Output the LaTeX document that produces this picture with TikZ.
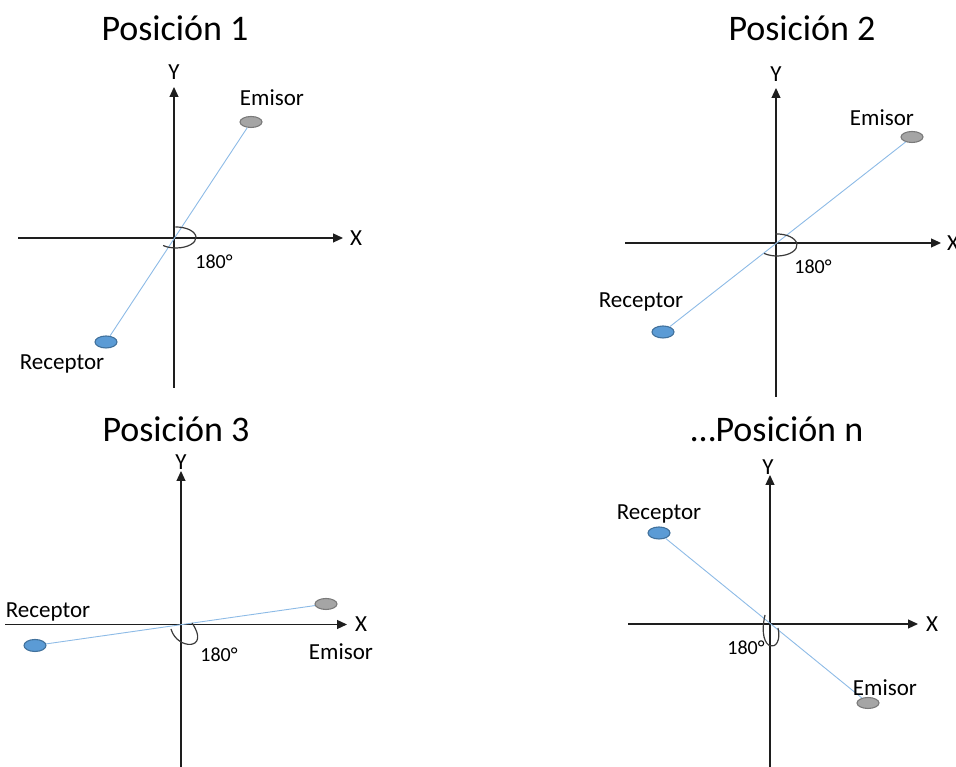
\documentclass[tikz,border=0pt]{standalone}
\usepackage{fontspec}
\setmainfont{Carlito}
\usetikzlibrary{arrows.meta,shapes.geometric}
\definecolor{axisdark}{HTML}{1E1E1E}
\definecolor{linkblue}{HTML}{8DBBE6}
\definecolor{grayfill}{HTML}{A5A5A5}
\definecolor{grayedge}{HTML}{7A7A7A}
\definecolor{bluefill}{HTML}{5B9BD5}
\definecolor{blueedge}{HTML}{41719C}
\definecolor{arcgray}{HTML}{3A3A3A}
\begin{document}
\begin{tikzpicture}[x=1pt,y=1pt,
  axisline/.style={draw=axisdark, line width=1.2pt, -{Triangle[length=10pt,width=9pt]}},
  link/.style={draw=linkblue, line width=0.9pt},
  emitter/.style={ellipse, draw=grayedge, fill=grayfill, line width=1.1pt,
    minimum width=22pt, minimum height=11pt, inner sep=0pt},
  receiver/.style={ellipse, draw=blueedge, fill=bluefill, line width=1.1pt,
    minimum width=22pt, minimum height=12pt, inner sep=0pt},
  titletext/.style={font=\fontsize{36}{42}\selectfont},
  lbl/.style={font=\fontsize{23}{27}\selectfont},
  deg/.style={font=\fontsize{20}{24}\selectfont},
  anglearc/.style={draw=arcgray, line width=1.2pt}]
\useasboundingbox (0,0) rectangle (956,767);

% ---------- Position 1 ----------
\node[titletext] (t1) at (175,739) {Posición 1};
\coordinate (o1) at (174,529);
\coordinate (y1b) at (174,379);
\coordinate (y1t) at (174,680);
\coordinate (x1l) at (18,529);
\coordinate (x1r) at (343,529);
\draw[axisline] (y1b) -- (y1t);
\draw[axisline] (x1l) -- (x1r);
\node[lbl] (ly1) at (174,695) {Y};
\node[lbl] (lx1) at (356,529) {X};
\node[emitter] (e1) at (251,645) {};
\node[receiver] (r1) at (106,425) {};
\draw[link] (r1) -- (e1);
\node[lbl] (le1) at (272,669) {Emisor};
\node[lbl] (lr1) at (62,403) {Receptor};
\node[deg] (d1) at (214,505) {180°};
\coordinate (c1) at (176,529.5);
\draw[anglearc] (c1) ++(92:20pt and 10.5pt)
  arc[start angle=92, end angle=-130, x radius=20pt, y radius=10.5pt];

% ---------- Position 2 ----------
\node[titletext] (t2) at (802,739) {Posición 2};
\coordinate (o2) at (776,524);
\coordinate (y2b) at (776,370);
\coordinate (y2t) at (776,679);
\coordinate (x2l) at (625,524);
\coordinate (x2r) at (941,524);
\draw[axisline] (y2b) -- (y2t);
\draw[axisline] (x2l) -- (x2r);
\node[lbl] (ly2) at (776,693) {Y};
\node[lbl] (lx2) at (953,524) {X};
\node[emitter] (e2) at (912,630) {};
\node[receiver] (r2) at (663,435) {};
\draw[link] (r2) -- (e2);
\node[lbl] (le2) at (882,649) {Emisor};
\node[lbl] (lr2) at (641,465) {Receptor};
\node[deg] (d2) at (813,500) {180°};
\coordinate (c2) at (777,522);
\draw[anglearc] (c2) ++(95:20pt and 11pt)
  arc[start angle=95, end angle=-130, x radius=20pt, y radius=11pt];

% ---------- Position 3 ----------
\node[titletext] (t3) at (176,338) {Posición 3};
\coordinate (o3) at (181,142.5);
\coordinate (y3b) at (181,-5);
\coordinate (y3t) at (181,296);
\coordinate (x3l) at (5,142.5);
\coordinate (x3r) at (347,142.5);
\draw[axisline] (y3b) -- (y3t);
\draw[axisline] (x3l) -- (x3r);
\node[lbl] (ly3) at (181,305) {Y};
\node[lbl] (lx3) at (361,143) {X};
\node[emitter] (e3) at (326,163) {};
\node[receiver] (r3) at (35,121.5) {};
\draw[link] (r3) -- (e3);
\node[lbl] (le3) at (341,115) {Emisor};
\node[lbl] (lr3) at (48,155) {Receptor};
\node[deg] (d3) at (219,112) {180°};
\draw[anglearc] (171,138) .. controls (177,116.5) and (211,116.5) .. (192,144);

% ---------- Position n ----------
\node[titletext] (t4) at (777,338) {…Posición n};
\coordinate (o4) at (770,143);
\coordinate (y4b) at (770,-5);
\coordinate (y4t) at (770,292);
\coordinate (x4l) at (628,143);
\coordinate (x4r) at (918,143);
\draw[axisline] (y4b) -- (y4t);
\draw[axisline] (x4l) -- (x4r);
\node[lbl] (ly4) at (768,300) {Y};
\node[lbl] (lx4) at (932,143) {X};
\node[receiver] (r4) at (659,234) {};
\node[emitter] (e4) at (868,64) {};
\draw[link] (r4) -- (e4);
\node[lbl] (lr4) at (659,253) {Receptor};
\node[lbl] (le4) at (885,79) {Emisor};
\node[deg] (d4) at (746,119) {180°};
\draw[anglearc] (765,152) .. controls (756,113) and (784,113) .. (778,139);
\end{tikzpicture}
\end{document}
